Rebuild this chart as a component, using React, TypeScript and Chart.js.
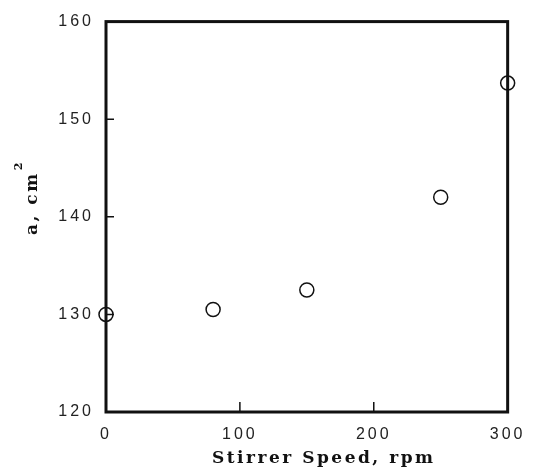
import React, { useEffect, useRef } from "react";
import { Chart, registerables } from "chart.js";

Chart.register(...registerables);

// ---- data ----
const speeds = [0, 80, 150, 250, 300];
const areas = [130.0, 130.5, 132.5, 142.0, 153.7];
const xTickValues = [0, 100, 200, 300];
const yTickValues = [120, 130, 140, 150, 160];
const xInnerTicks = [100, 200];
const yInnerTicks = [130, 140, 150];
const xTitle = "Stirrer Speed, rpm";
const yTitle = "a, cm";
const yTitleSup = "2";

const W = 534;
const H = 471;
const TITLE_FONT = 'bold 17px "DejaVu Serif"';

const framePlugin = {
  id: "frame",
  beforeDraw(chart: any) {
    chart.ctx.letterSpacing = "3px";
  },
  beforeDatasetsDraw(chart: any) {
    const { ctx, chartArea: a, scales } = chart;
    ctx.save();
    ctx.letterSpacing = "0px";
    ctx.strokeStyle = "#111";
    ctx.lineWidth = 3;
    ctx.strokeRect(a.left, a.top, a.right - a.left, a.bottom - a.top);
    ctx.lineWidth = 1.5;
    ctx.beginPath();
    for (const v of xInnerTicks) {
      const px = scales.x.getPixelForValue(v);
      ctx.moveTo(px, a.bottom);
      ctx.lineTo(px, a.bottom - 10);
    }
    for (const v of yInnerTicks) {
      const py = scales.y.getPixelForValue(v);
      ctx.moveTo(a.left, py);
      ctx.lineTo(a.left + 8, py);
    }
    ctx.stroke();
    ctx.restore();
  },
  afterDraw(chart: any) {
    const { ctx } = chart;
    ctx.save();
    ctx.fillStyle = "#111";
    // x title
    ctx.font = TITLE_FONT;
    ctx.letterSpacing = "0px";
    const w0 = ctx.measureText(xTitle).width;
    const sp = Math.max(0, (221 - w0) / (xTitle.length - 1));
    ctx.letterSpacing = sp + "px";
    ctx.textAlign = "left";
    ctx.textBaseline = "alphabetic";
    ctx.fillText(xTitle, 212, 463);
    // y title (rotated)
    ctx.translate(37, 235);
    ctx.rotate(-Math.PI / 2);
    ctx.font = TITLE_FONT;
    ctx.letterSpacing = sp + "px";
    ctx.fillText(yTitle, 0, 0);
    const yw = ctx.measureText(yTitle).width;
    ctx.font = 'bold 11px "DejaVu Serif"';
    ctx.letterSpacing = "0px";
    ctx.fillText(yTitleSup, yw + 1, -15);
    ctx.restore();
    chart.ctx.letterSpacing = "0px";
  },
};

export default function App() {
  const ref = useRef<HTMLCanvasElement | null>(null);
  useEffect(() => {
    document.body.style.margin = "0";
    if (!ref.current) return;
    const tickFont = { family: '"Liberation Sans", sans-serif', size: 16, weight: "normal" as const };
    const chart = new Chart(ref.current, {
      type: "scatter",
      data: {
        datasets: [
          {
            data: speeds.map((s, i) => ({ x: s, y: areas[i] })),
            pointStyle: "circle",
            pointRadius: 7,
            pointHoverRadius: 7,
            pointBorderWidth: 1.5,
            borderColor: "#111",
            pointBorderColor: "#111",
            backgroundColor: "rgba(0,0,0,0)",
            pointBackgroundColor: "rgba(0,0,0,0)",
            showLine: false,
            clip: false as any,
          },
        ],
      },
      plugins: [framePlugin],
      options: {
        responsive: false,
        animation: false,
        events: [],
        layout: { padding: { left: 0, top: 14, right: 26, bottom: 0 } },
        plugins: { legend: { display: false }, tooltip: { enabled: false }, title: { display: false } },
        scales: {
          x: {
            type: "linear",
            min: 0,
            max: 300,
            afterBuildTicks: (scale: any) => {
              scale.ticks = xTickValues.map((v) => ({ value: v }));
            },
            afterFit: (scale: any) => {
              scale.height = H - 412;
            },
            ticks: { font: tickFont, color: "#222", padding: 13, maxRotation: 0, autoSkip: false },
            grid: { display: false, drawTicks: false },
            border: { display: false },
          },
          y: {
            type: "linear",
            min: 120,
            max: 160,
            afterBuildTicks: (scale: any) => {
              scale.ticks = yTickValues.map((v) => ({ value: v }));
            },
            afterFit: (scale: any) => {
              scale.width = 106;
            },
            ticks: { font: tickFont, color: "#222", padding: 12, autoSkip: false },
            grid: { display: false, drawTicks: false },
            border: { display: false },
          },
        },
      },
    });
    return () => chart.destroy();
  }, []);
  return (
    <div style={{ width: W, height: H, background: "#fff" }}>
      <canvas ref={ref} width={W} height={H} style={{ display: "block" }} />
    </div>
  );
}
